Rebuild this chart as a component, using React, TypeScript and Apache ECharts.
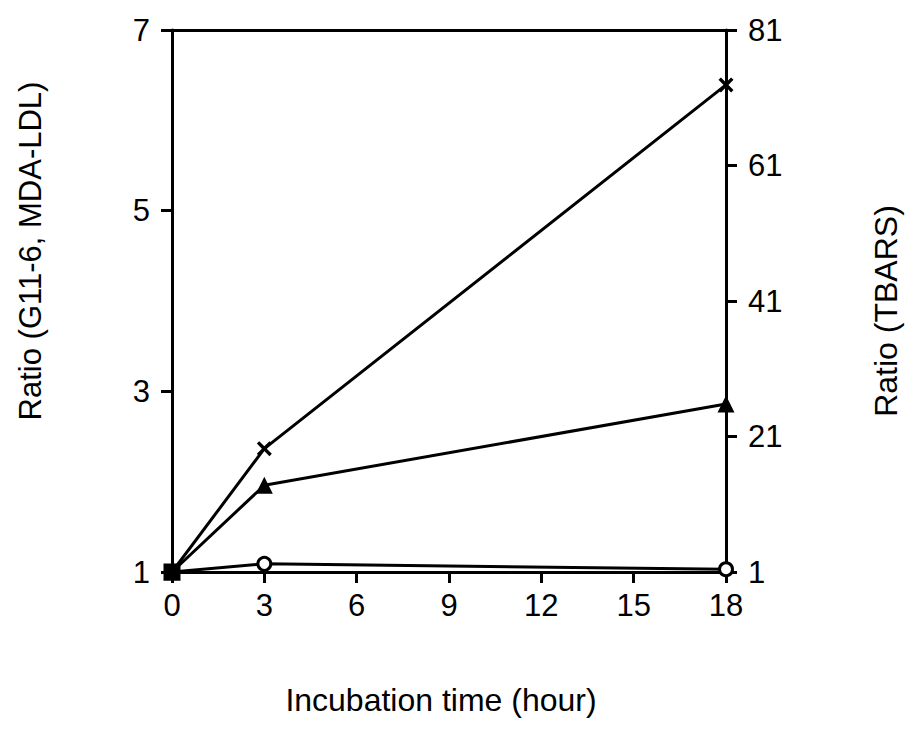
import React, { useEffect, useRef } from "react";
import * as echarts from "echarts";

const hours = [0, 3, 18];
const crossTBARS = [1, 19.2, 72.9];
const triangleRatio = [1, 1.96, 2.86];
const circleRatio = [1, 1.09, 1.03];
const leftTicks = [1, 3, 5, 7];
const rightTicks = [1, 21, 41, 61, 81];
const xTicks = [0, 3, 6, 9, 12, 15, 18];

const FONT = "Liberation Sans, Arial, sans-serif";
const FS = 31;
const CROSS =
  "path://M0,1.6 L1.6,0 L5,3.4 L8.4,0 L10,1.6 L6.6,5 L10,8.4 L8.4,10 L5,6.6 L1.6,10 L0,8.4 L3.4,5 Z";

export default function App() {
  const ref = useRef<HTMLDivElement>(null);
  useEffect(() => {
    if (!ref.current) return;
    const chart = echarts.init(ref.current, undefined, { renderer: "svg" });
    const axisLine = { show: true, onZero: false, lineStyle: { color: "#000", width: 3 } };
    const tick = { show: true, length: 11, lineStyle: { color: "#000", width: 3 } };
    const label = { color: "#000", fontSize: FS, fontFamily: FONT };
    const mk = (ys: number[]) => hours.map((h, i) => [h, ys[i]]);
    chart.setOption({
      animation: false,
      backgroundColor: "#fff",
      grid: { left: 172, right: 189, top: 30, bottom: 169, containLabel: false },
      xAxis: [
        {
          type: "value",
          min: 0,
          max: 18,
          interval: 3,
          position: "bottom",
          axisLine,
          axisTick: { ...tick, customValues: xTicks },
          axisLabel: { ...label, margin: 18, customValues: xTicks },
          splitLine: { show: false },
        },
        {
          type: "value",
          min: 0,
          max: 18,
          position: "top",
          axisLine,
          axisTick: { show: false },
          axisLabel: { show: false },
          splitLine: { show: false },
        },
      ],
      yAxis: [
        {
          type: "value",
          min: 1,
          max: 7,
          position: "left",
          axisLine,
          axisTick: { ...tick, customValues: leftTicks },
          axisLabel: { ...label, margin: 22, customValues: leftTicks },
          splitLine: { show: false },
        },
        {
          type: "value",
          min: 1,
          max: 81,
          position: "right",
          axisLine,
          axisTick: { ...tick, customValues: rightTicks },
          axisLabel: { ...label, margin: 22, customValues: rightTicks },
          splitLine: { show: false },
        },
      ],
      series: [
        {
          type: "line",
          yAxisIndex: 0,
          data: mk(circleRatio).map((d, i) =>
            i === 0
              ? { value: d, symbol: "rect", symbolSize: 14, itemStyle: { color: "#000" } }
              : { value: d }
          ),
          symbol: "circle",
          symbolSize: 13,
          lineStyle: { color: "#000", width: 3 },
          itemStyle: { color: "#fff", borderColor: "#000", borderWidth: 3 },
          z: 3,
        },
        {
          type: "line",
          yAxisIndex: 0,
          data: mk(triangleRatio),
          symbol: "triangle",
          symbolSize: 17,
          lineStyle: { color: "#000", width: 3 },
          itemStyle: { color: "#000" },
          z: 4,
        },
        {
          type: "line",
          yAxisIndex: 1,
          data: mk(crossTBARS),
          symbol: CROSS,
          symbolSize: 15,
          lineStyle: { color: "#000", width: 3 },
          itemStyle: { color: "#000" },
          z: 5,
        },
      ],
      graphic: [
        {
          type: "text",
          x: 30,
          y: 251,
          rotation: Math.PI / 2,
          style: {
            text: "Ratio (G11-6, MDA-LDL)",
            fontSize: FS,
            fontFamily: FONT,
            fill: "#000",
            align: "center",
            verticalAlign: "middle",
          },
        },
        {
          type: "text",
          x: 886,
          y: 311,
          rotation: Math.PI / 2,
          style: {
            text: "Ratio (TBARS)",
            fontSize: 32,
            fontFamily: FONT,
            fill: "#000",
            align: "center",
            verticalAlign: "middle",
          },
        },
        {
          type: "text",
          x: 441,
          y: 700,
          style: {
            text: "Incubation time (hour)",
            fontSize: 32,
            fontFamily: FONT,
            fill: "#000",
            align: "center",
            verticalAlign: "middle",
          },
        },
      ],
    });
    return () => chart.dispose();
  }, []);
  return <div ref={ref} style={{ width: 915, height: 741, margin: -8 }} />;
}
